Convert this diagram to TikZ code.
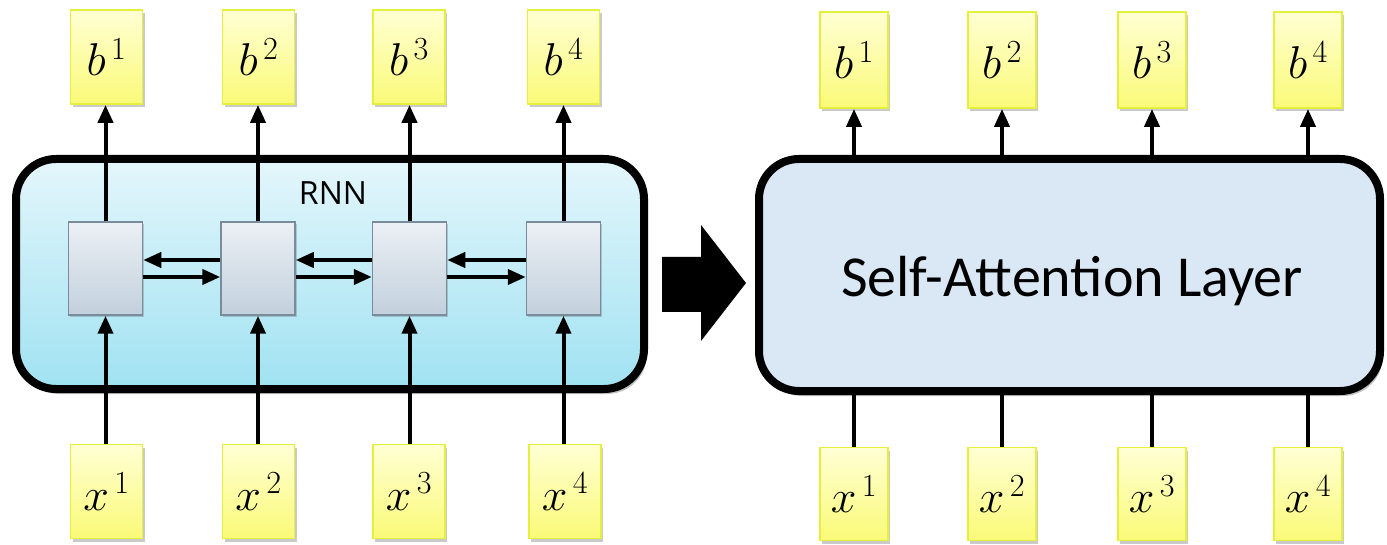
\RequirePackage{fix-cm}
\documentclass[tikz,border=0pt]{standalone}
\usepackage{fontspec}
\newfontfamily\carlito{Carlito}
\newfontfamily\opensans{Open Sans}
\usetikzlibrary{arrows.meta,shadows,calc}
\definecolor{ytop}{RGB}{255,255,212}
\definecolor{ybot}{RGB}{250,250,120}
\definecolor{yborder}{RGB}{228,240,60}
\definecolor{celltop}{RGB}{236,240,245}
\definecolor{cellbot}{RGB}{194,208,220}
\definecolor{cellborder}{RGB}{120,140,155}
\definecolor{rnntop}{RGB}{228,246,251}
\definecolor{rnnbot}{RGB}{160,226,242}
\definecolor{safill}{RGB}{218,232,245}
\tikzset{
  ybox/.style={draw=yborder, line width=1.8pt, top color=ytop, bottom color=ybot,
    minimum width=72pt, minimum height=94pt, inner sep=0pt,
    drop shadow={shadow xshift=2pt, shadow yshift=-3pt, opacity=0.35, fill=black!60},
    font=\fontsize{46}{50}\selectfont},
  cell/.style={draw=cellborder, line width=1.5pt, top color=celltop, bottom color=cellbot,
    minimum width=74pt, minimum height=93pt, inner sep=0pt,
    drop shadow={shadow xshift=1.5pt, shadow yshift=-2pt, opacity=0.3, fill=black!60}},
  bigbox/.style={draw=black, line width=8pt, rounded corners=40pt, inner sep=0pt,
    drop shadow={shadow xshift=3pt, shadow yshift=-5pt, opacity=0.35, fill=black!70}},
  arr/.style={line width=4pt, -{Triangle[width=15pt,length=18pt]}},
  conn/.style={line width=4pt},
}
\begin{document}
\begin{tikzpicture}[x=1pt,y=-1pt]
\useasboundingbox (0,0) rectangle (1387,545);
% containers
\node[bigbox, top color=rnntop, bottom color=rnnbot, minimum width=628pt, minimum height=230pt] (rnn) at (330,274) {};
\node[bigbox, fill=safill, minimum width=621pt, minimum height=232pt] (sa) at (1069.5,275) {};
\node[font=\carlito\fontsize{58}{60}\selectfont] (satext) at (1072,281) {Self-Attention Layer};
\node[font=\opensans\fontsize{32}{36}\selectfont] (rnnlabel) at (333,193) {RNN};
% big arrow
\fill[black] (662,257) -- (701,257) -- (701,225) -- (746,283) -- (701,341) -- (701,312) -- (662,312) -- cycle;
% cells
\node[cell] (c1) at (105.5,268.5) {};
\node[cell] (c2) at (258,268.5) {};
\node[cell] (c3) at (409.5,268.5) {};
\node[cell] (c4) at (563.5,268.5) {};
% left yellow boxes
\node[ybox] (b1) at (106.5,57) {$b^{\,1}$};
\node[ybox] (b2) at (258.5,57) {$b^{\,2}$};
\node[ybox] (b3) at (409,57) {$b^{\,3}$};
\node[ybox] (b4) at (563.5,57) {$b^{\,4}$};
\node[ybox] (x1) at (106.5,491.5) {$x^{\,1}$};
\node[ybox] (x2) at (258.5,491.5) {$x^{\,2}$};
\node[ybox] (x3) at (409,491.5) {$x^{\,3}$};
\node[ybox] (x4) at (565,491.5) {$x^{\,4}$};
% right yellow boxes
\node[ybox, minimum width=68pt, minimum height=96pt] (sb1) at (854,60) {$b^{\,1}$};
\node[ybox, minimum width=68pt, minimum height=96pt] (sb2) at (1002,60) {$b^{\,2}$};
\node[ybox, minimum width=68pt, minimum height=96pt] (sb3) at (1152,60) {$b^{\,3}$};
\node[ybox, minimum width=68pt, minimum height=96pt] (sb4) at (1308,60) {$b^{\,4}$};
\node[ybox, minimum width=68pt, minimum height=93pt] (sx1) at (854,494) {$x^{\,1}$};
\node[ybox, minimum width=68pt, minimum height=93pt] (sx2) at (1002,494) {$x^{\,2}$};
\node[ybox, minimum width=68pt, minimum height=93pt] (sx3) at (1152,494) {$x^{\,3}$};
\node[ybox, minimum width=68pt, minimum height=93pt] (sx4) at (1308,494) {$x^{\,4}$};
% left vertical arrows
\foreach \i in {1,2,3,4}{
  \draw[arr] (c\i.north) -- (c\i.north |- b\i.south);
  \draw[arr] (c\i.south |- x\i.north) -- (c\i.south);
}
% horizontal arrows
\draw[arr] ([yshift=8.5pt]c2.west) -- ([yshift=8.5pt]c1.east);
\draw[arr] ([yshift=-8.5pt]c1.east) -- ([yshift=-8.5pt]c2.west);
\draw[arr] ([yshift=8.5pt]c3.west) -- ([yshift=8.5pt]c2.east);
\draw[arr] ([yshift=-8.5pt]c2.east) -- ([yshift=-8.5pt]c3.west);
\draw[arr] ([yshift=8.5pt]c4.west) -- ([yshift=8.5pt]c3.east);
\draw[arr] ([yshift=-8.5pt]c3.east) -- ([yshift=-8.5pt]c4.west);
% right connectors
\foreach \i in {1,2,3,4}{
  \draw[arr] (sb\i.south |- sa.north) -- (sb\i.south);
  \draw[conn] (sx\i.north) -- (sx\i.north |- sa.south);
}
\end{tikzpicture}
\end{document}
